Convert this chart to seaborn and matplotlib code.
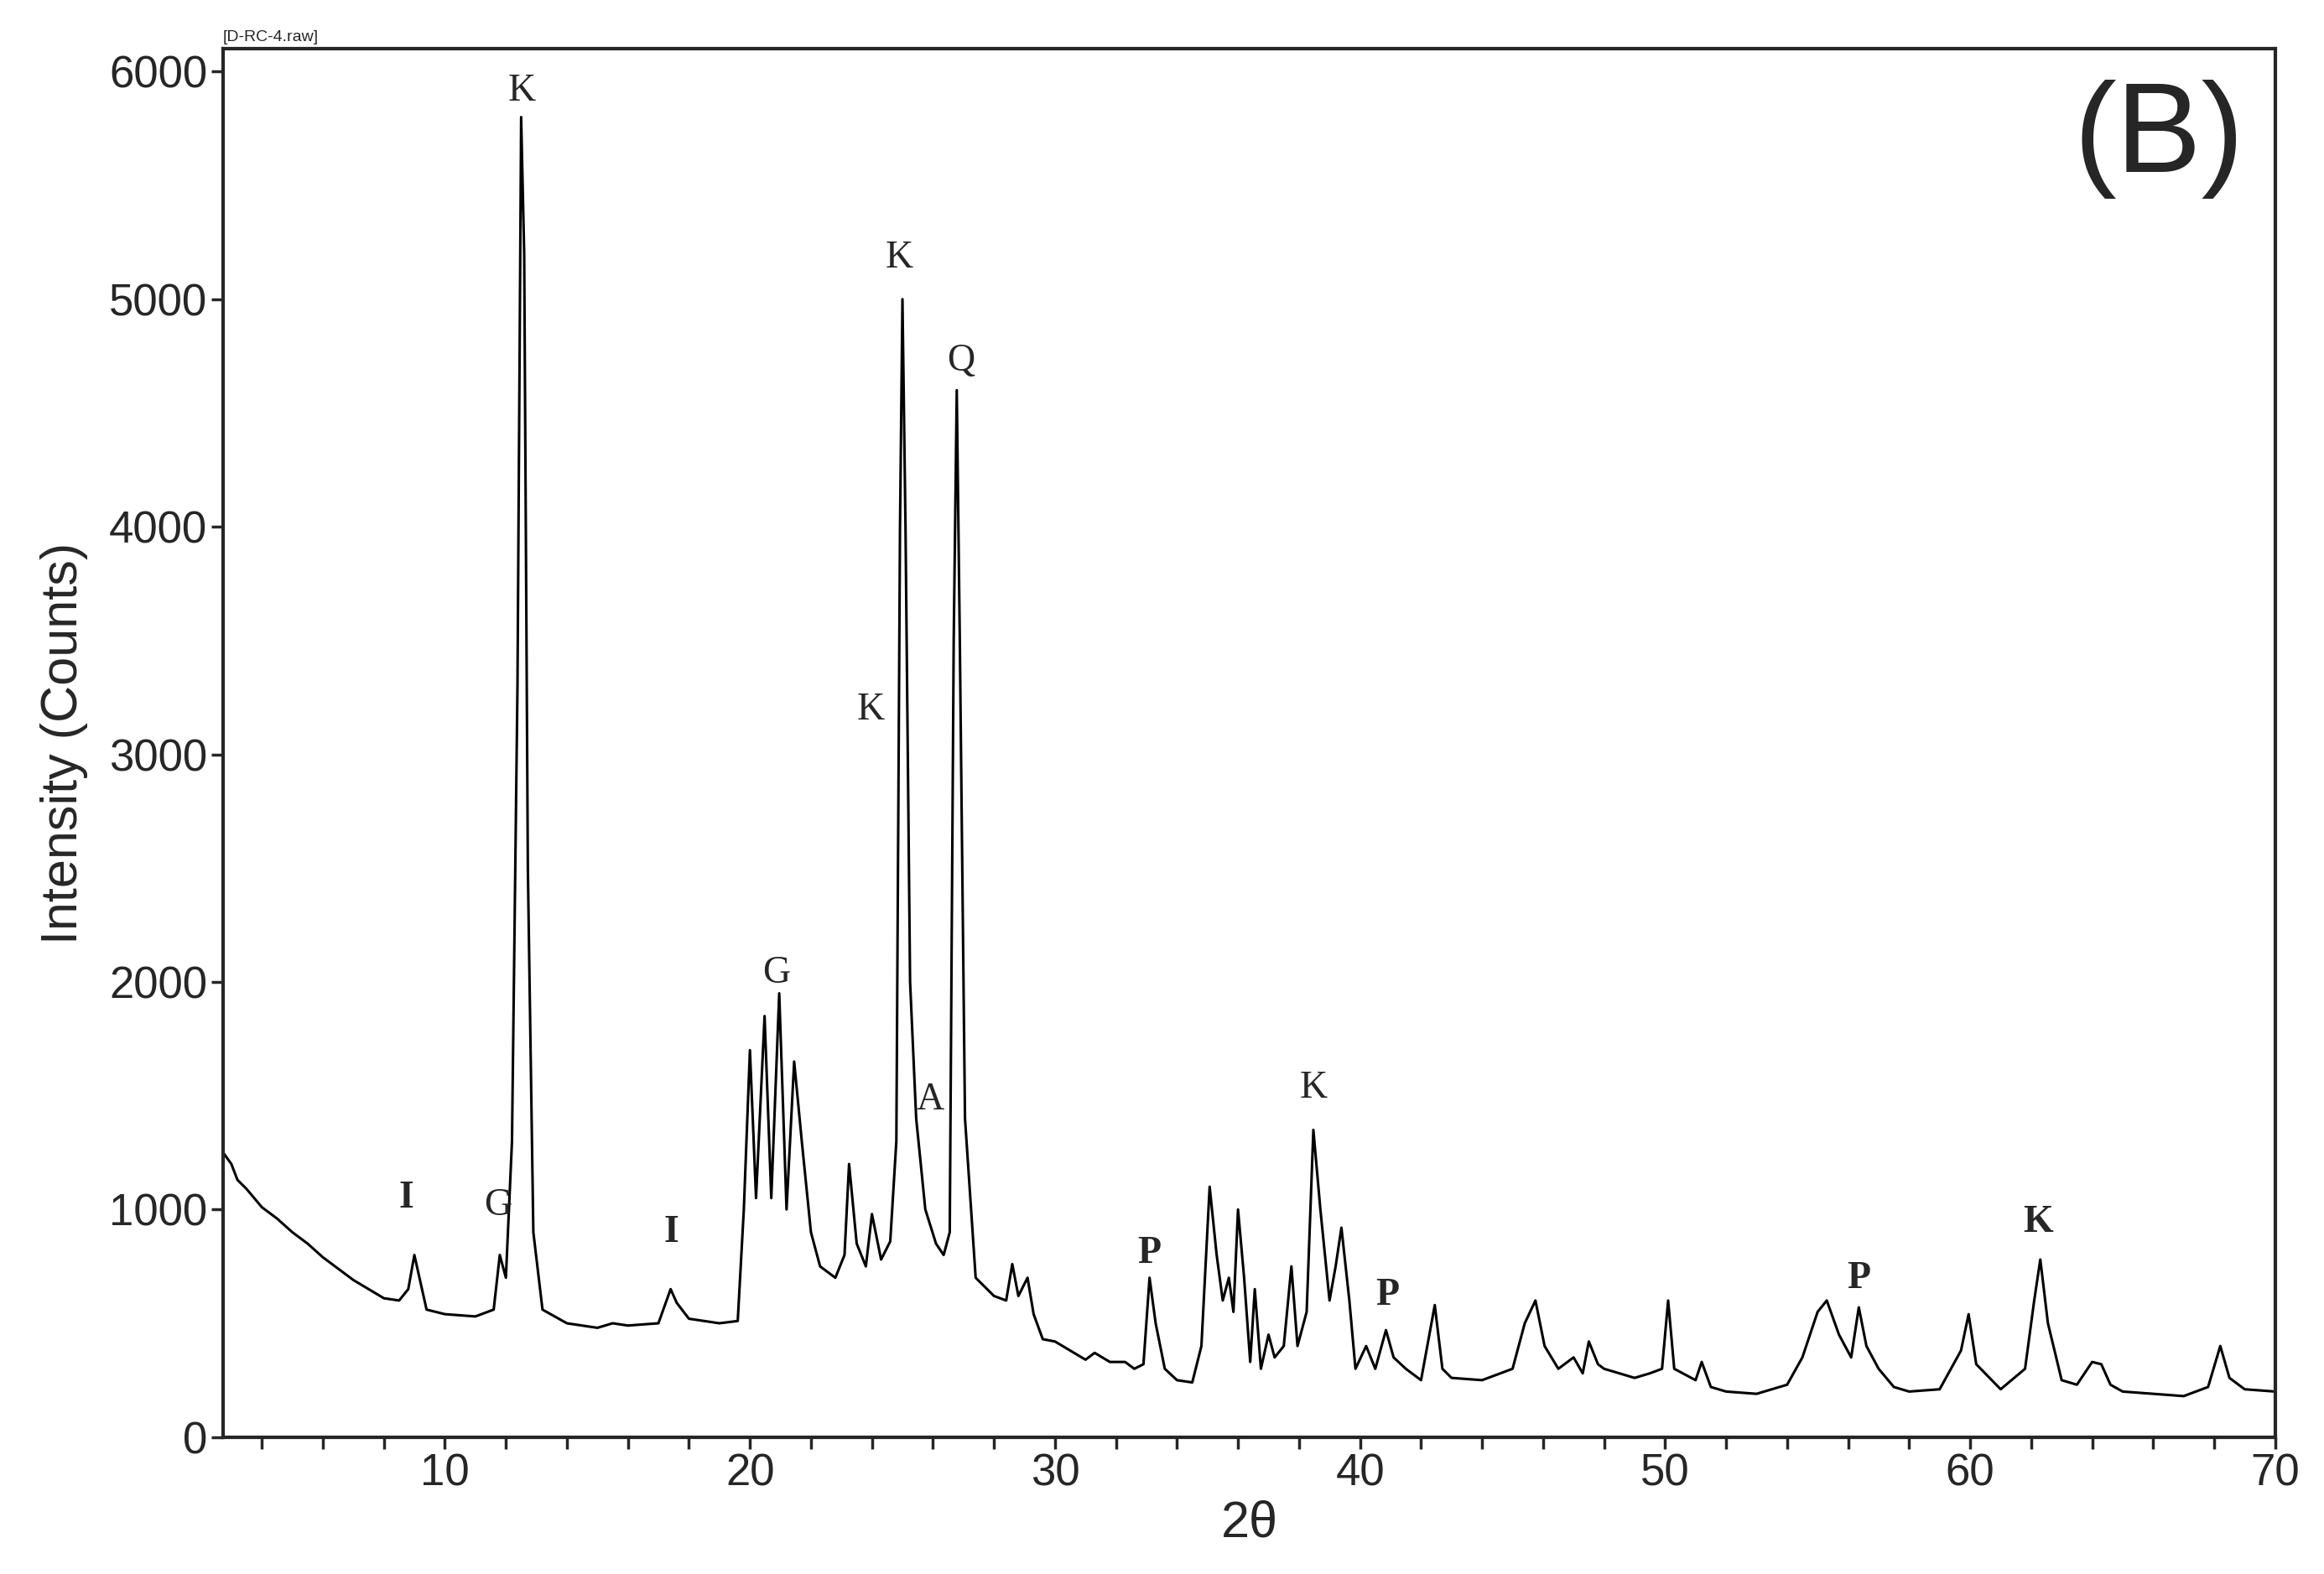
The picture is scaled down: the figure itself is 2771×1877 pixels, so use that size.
import numpy as np
import pandas as pd
import seaborn as sns
from matplotlib import pyplot as plt

# XRD pattern: 2theta and counts
two_theta = [2.73, 3.0, 3.2, 3.5, 4.0, 4.5, 5.0, 5.5, 6.0, 6.5, 7.0, 7.5, 8.0, 8.5, 8.8, 9.0, 9.2, 9.4, 10.0, 11.0, 11.6,
             11.8, 12.0, 12.2, 12.38, 12.5, 12.6, 12.72, 12.9, 13.2, 14.0, 15.0, 15.5, 16.0, 17.0, 17.4, 17.6, 18.0, 19.0,
             19.6, 19.8, 20.0, 20.2, 20.48, 20.7, 20.96, 21.2, 21.45, 21.7, 22.0, 22.3, 22.8, 23.1, 23.25, 23.5, 23.8,
             24.0, 24.3, 24.6, 24.8, 24.92, 25.0, 25.1, 25.25, 25.45, 25.75, 26.1, 26.35, 26.55, 26.68, 26.78, 26.88,
             27.05, 27.4, 28.0, 28.4, 28.6, 28.8, 29.1, 29.3, 29.6, 30.0, 30.5, 31.0, 31.3, 31.8, 32.3, 32.6, 32.9,
             33.1, 33.3, 33.6, 34.0, 34.5, 34.8, 35.07, 35.3, 35.5, 35.7, 35.85, 36.0, 36.2, 36.4, 36.55, 36.75, 37.0,
             37.2, 37.5, 37.75, 37.95, 38.25, 38.47, 38.7, 39.0, 39.2, 39.39, 39.65, 39.85, 40.2, 40.5, 40.85, 41.1,
             41.5, 42.0, 42.45, 42.7, 43.0, 44.0, 45.0, 45.4, 45.75, 46.05, 46.5, 47.0, 47.3, 47.5, 47.8, 48.0, 49.0,
             49.5, 49.9, 50.1, 50.3, 51.0, 51.2, 51.5, 52.0, 53.0, 54.0, 54.5, 55.0, 55.3, 55.7, 56.1, 56.35, 56.6,
             57.0, 57.5, 58.0, 59.0, 59.7, 59.95, 60.2, 61.0, 61.8, 62.1, 62.3, 62.55, 63.0, 63.5, 64.0, 64.3, 64.6,
             65.0, 66.0, 67.0, 67.8, 68.2, 68.5, 69.0, 70.0]
counts = [1250, 1200, 1130, 1090, 1010, 960, 900, 850, 790, 740, 690, 650, 610, 600, 650, 800, 680, 560, 540, 530, 560,
          800, 700, 1300, 3300, 5800, 5200, 2500, 900, 560, 500, 480, 500, 490, 500, 650, 590, 520, 500,
          510, 1000, 1700, 1050, 1850, 1050, 1950, 1000, 1650, 1300, 900, 750, 700, 800, 1200, 850, 750,
          980, 780, 860, 1300, 4000, 5000, 4000, 2000, 1400, 1000, 850, 800, 900, 3500, 4600, 3500,
          1400, 700, 620, 600, 760, 620, 700, 540, 430, 420, 380, 340, 370, 330, 330, 300, 320,
          700, 500, 300, 250, 240, 400, 1100, 800, 600, 700, 550, 1000, 700, 330, 650, 300, 450,
          350, 400, 750, 400, 550, 1350, 1000, 600, 750, 920, 600, 300, 400, 300, 470, 350,
          300, 250, 580, 300, 260, 250, 300, 500, 600, 400, 300, 350, 280, 420, 320, 300, 260,
          280, 300, 600, 300, 250, 330, 220, 200, 190, 230, 350, 550, 600, 450, 350, 570, 400,
          300, 220, 200, 210, 380, 540, 320, 210, 300, 600, 780, 500, 250, 230, 330, 320, 230,
          200, 190, 180, 220, 400, 260, 210, 200]

# phase labels
label_text = ["I", "G", "K", "I", "G", "K", "K", "Q", "A", "K", "P", "P", "P", "K"]
label_x = [8.74, 11.75, 12.52, 17.42, 20.86, 23.97, 24.89, 26.92, 25.9, 38.47, 33.08, 40.89, 56.36, 62.23]
label_y = [1048, 1015, 5913, 897, 2037, 3196, 5180, 4728, 1480, 1532, 805, 622, 694, 943]
label_bold = [True, False, False, True, False, False, False, False, False, False, True, True, True, True]

df = pd.DataFrame({"two_theta": two_theta, "counts": counts})

sns.set_style("ticks")
plt.rcParams['font.family'] = ['Liberation Sans', 'DejaVu Sans']

fig = plt.figure(figsize=(27.71, 18.77), dpi=100)
ax = fig.add_axes([0.096, 0.087, 0.883, 0.882])
sns.lineplot(data=df, x="two_theta", y="counts", color="black", linewidth=2.2, ax=ax, sort=False)

for t, x, y, b in zip(label_text, label_x, label_y, label_bold):
    ax.text(x, y, t, ha="center", va="center", fontsize=33, family="Liberation Serif",
            fontweight="bold" if b else "normal")

ax.text(0.985, 0.935, "(B)", transform=ax.transAxes, ha="right", va="center", fontsize=110)
ax.text(0.0, 1.003, "[D-RC-4.raw]", transform=ax.transAxes, ha="left", va="bottom", fontsize=14)

ax.set_xlim(2.73, 70)
ax.set_ylim(0, 6100)
ax.set_xticks([10, 20, 30, 40, 50, 60, 70])
ax.set_xticks(np.arange(4, 70, 2), minor=True)
ax.set_yticks([0, 1000, 2000, 3000, 4000, 5000, 6000])
ax.tick_params(axis="both", which="major", labelsize=38, length=10, width=2.5, direction="out")
ax.tick_params(axis="x", which="minor", length=10, width=2.5, direction="out")
for s in ax.spines.values():
    s.set_linewidth(3)
    s.set_visible(True)
ax.set_xlabel("2θ", fontsize=44, labelpad=4)
ax.set_ylabel("Intensity (Counts)", fontsize=44, labelpad=18)

plt.savefig("out.png", dpi=100)
